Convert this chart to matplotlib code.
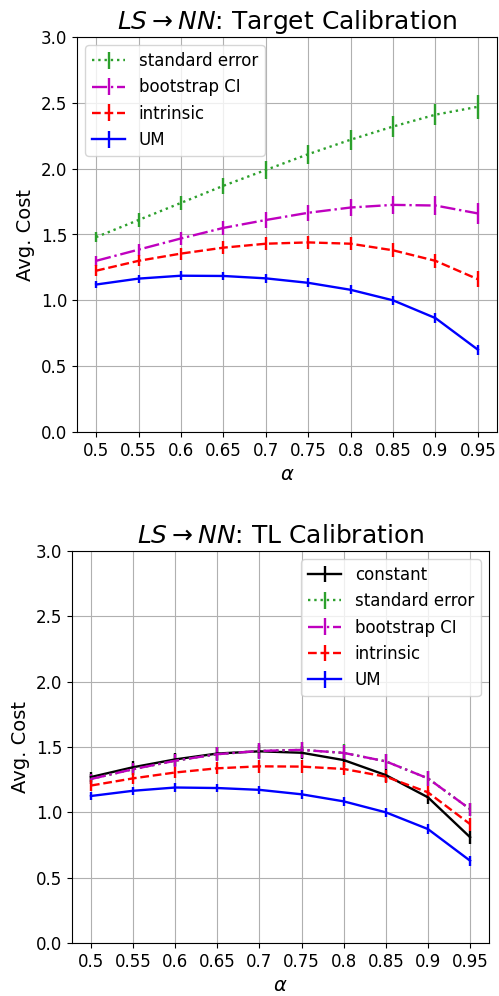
import matplotlib
matplotlib.use("Agg")
import matplotlib.pyplot as plt

alphas = [0.5, 0.55, 0.6, 0.65, 0.7, 0.75, 0.8, 0.85, 0.9, 0.95]
alpha_labels = ["0.5", "0.55", "0.6", "0.65", "0.7", "0.75", "0.8", "0.85", "0.9", "0.95"]

# top panel: target calibration
tgt_se = [1.48, 1.61, 1.74, 1.87, 1.99, 2.11, 2.22, 2.32, 2.41, 2.47]
tgt_se_err = [0.04, 0.05, 0.055, 0.06, 0.07, 0.073, 0.075, 0.08, 0.082, 0.093]
tgt_boot = [1.30, 1.385, 1.47, 1.55, 1.61, 1.665, 1.705, 1.725, 1.72, 1.66]
tgt_boot_err = [0.038, 0.045, 0.05, 0.055, 0.06, 0.062, 0.065, 0.068, 0.07, 0.08]
tgt_intr = [1.225, 1.30, 1.355, 1.40, 1.43, 1.44, 1.43, 1.38, 1.30, 1.16]
tgt_intr_err = [0.04, 0.042, 0.045, 0.047, 0.05, 0.05, 0.05, 0.052, 0.055, 0.06]
tgt_um = [1.12, 1.165, 1.187, 1.185, 1.167, 1.133, 1.08, 1.0, 0.865, 0.625]
tgt_um_err = [0.03, 0.03, 0.032, 0.032, 0.033, 0.034, 0.035, 0.036, 0.037, 0.038]

# bottom panel: TL calibration
tl_const = [1.27, 1.345, 1.405, 1.45, 1.467, 1.456, 1.40, 1.285, 1.115, 0.81]
tl_const_err = [0.04, 0.045, 0.048, 0.05, 0.05, 0.05, 0.05, 0.05, 0.055, 0.05]
tl_se = [1.255, 1.33, 1.395, 1.445, 1.47, 1.478, 1.455, 1.39, 1.26, 1.025]
tl_se_err = [0.04, 0.045, 0.05, 0.055, 0.06, 0.06, 0.065, 0.06, 0.06, 0.05]
tl_boot = [1.255, 1.33, 1.395, 1.445, 1.47, 1.478, 1.455, 1.39, 1.26, 1.025]
tl_boot_err = [0.04, 0.045, 0.05, 0.055, 0.06, 0.06, 0.06, 0.06, 0.06, 0.05]
tl_intr = [1.205, 1.26, 1.305, 1.337, 1.352, 1.35, 1.332, 1.273, 1.153, 0.91]
tl_intr_err = [0.04, 0.042, 0.045, 0.047, 0.05, 0.05, 0.05, 0.05, 0.05, 0.05]
tl_um = [1.125, 1.165, 1.19, 1.186, 1.172, 1.138, 1.084, 1.0, 0.872, 0.63]
tl_um_err = [0.03, 0.03, 0.032, 0.032, 0.033, 0.034, 0.035, 0.036, 0.037, 0.038]

LW = 1.7


def style_axes(ax, title):
    ax.set_ylim(0, 3.0)
    ax.set_xticks(alphas)
    ax.set_xticklabels(alpha_labels)
    ax.tick_params(labelsize=12)
    ax.grid(True)
    ax.set_title(title, fontsize=18)
    ax.set_xlabel(r"$\alpha$", fontsize=14)
    ax.set_ylabel("Avg. Cost", fontsize=14)


def main():
    W, H = 499, 996
    fig = plt.figure(figsize=(W / 100, H / 100), dpi=100)

    ax1 = fig.add_axes([77 / W, 1 - 432 / H, 420 / W, 395 / H])
    ax1.errorbar(alphas, tgt_se, yerr=tgt_se_err, color="tab:green", ls=":", lw=LW, label="standard error")
    ax1.errorbar(alphas, tgt_boot, yerr=tgt_boot_err, color="m", ls="-.", lw=LW, label="bootstrap CI")
    ax1.errorbar(alphas, tgt_intr, yerr=tgt_intr_err, color="r", ls="--", lw=LW, label="intrinsic")
    ax1.errorbar(alphas, tgt_um, yerr=tgt_um_err, color="b", ls="-", lw=LW, label="UM")
    style_axes(ax1, r"$LS \rightarrow NN$: Target Calibration")
    ax1.legend(loc="upper left", fontsize=12)

    ax2 = fig.add_axes([72 / W, 1 - 943 / H, 417 / W, 392 / H])
    ax2.errorbar(alphas, tl_const, yerr=tl_const_err, color="k", ls="-", lw=LW, label="constant")
    ax2.errorbar(alphas, tl_se, yerr=tl_se_err, color="tab:green", ls=":", lw=LW, label="standard error")
    ax2.errorbar(alphas, tl_boot, yerr=tl_boot_err, color="m", ls="-.", lw=LW, label="bootstrap CI")
    ax2.errorbar(alphas, tl_intr, yerr=tl_intr_err, color="r", ls="--", lw=LW, label="intrinsic")
    ax2.errorbar(alphas, tl_um, yerr=tl_um_err, color="b", ls="-", lw=LW, label="UM")
    style_axes(ax2, r"$LS \rightarrow NN$: TL Calibration")
    ax2.legend(loc="upper right", fontsize=12)

    fig.savefig("out.png", dpi=100)


if __name__ == "__main__":
    main()
